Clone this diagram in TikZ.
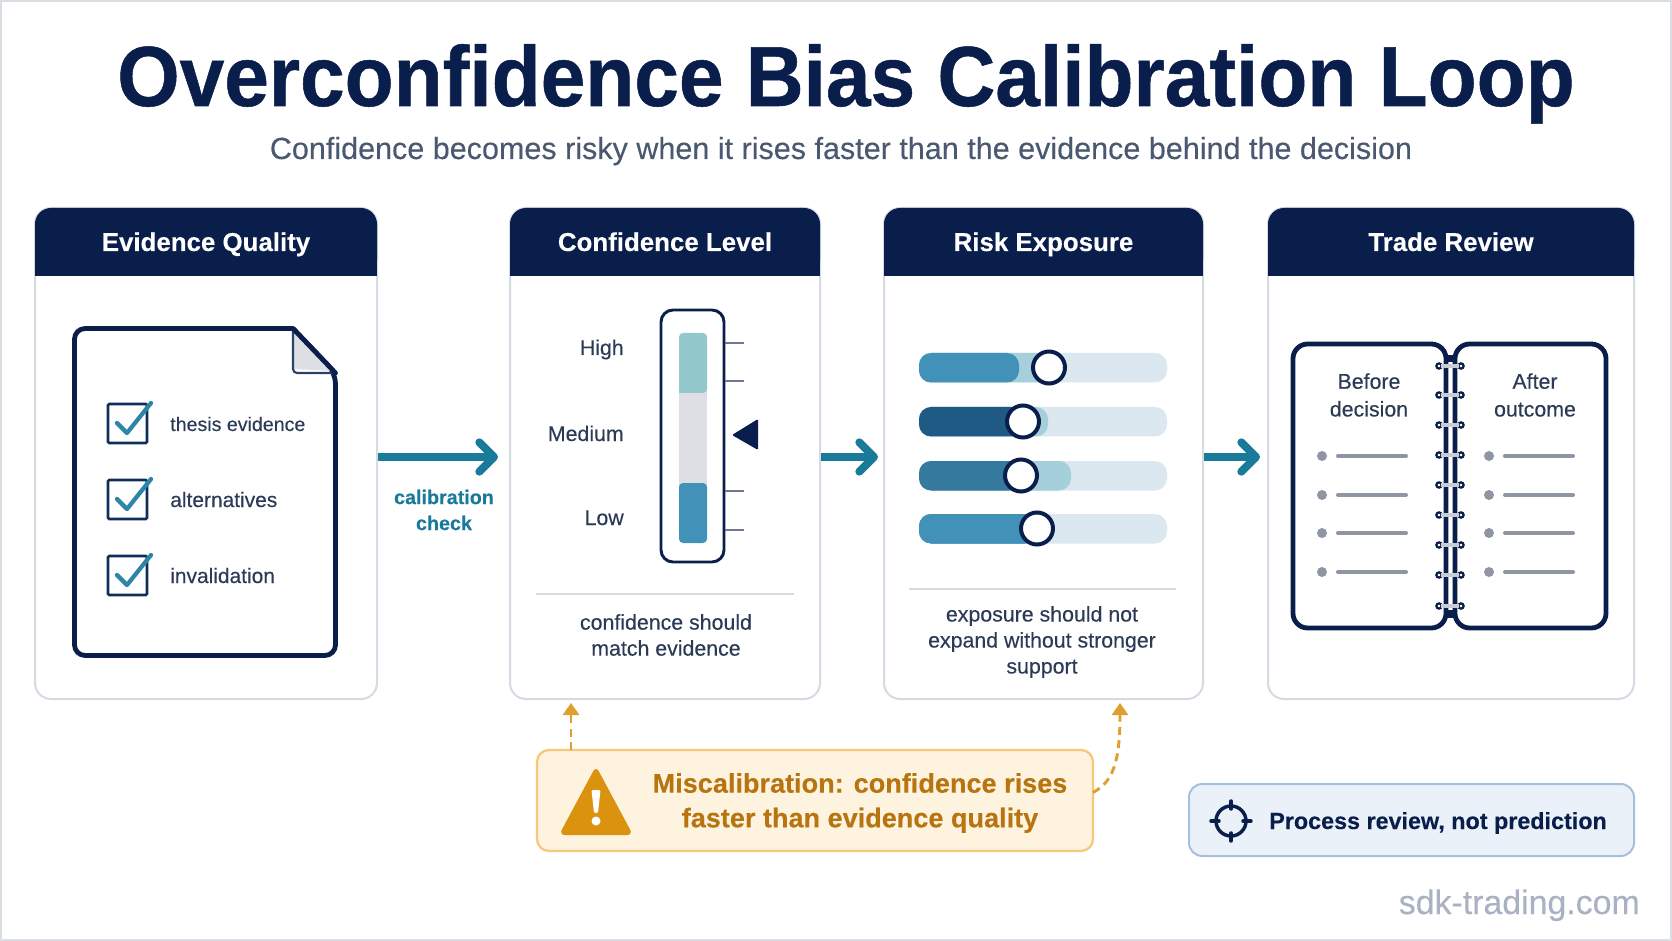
\documentclass[tikz,border=0pt]{standalone}
\usepackage{fontspec}
\setmainfont[FakeBold=0.2]{Liberation Sans}
\newfontfamily\titlefont[FakeStretch=0.94,FakeBold=0.6]{Liberation Sans Bold}
\usetikzlibrary{arrows.meta,calc}
\definecolor{navy}{HTML}{0A1E4B}
\definecolor{inktext}{HTML}{2B3A55}
\definecolor{subgray}{HTML}{4A5870}
\definecolor{panelline}{HTML}{D5DAE3}
\definecolor{teal}{HTML}{1A7A9A}
\definecolor{chk}{HTML}{2D86A8}
\definecolor{tick}{HTML}{6E7890}
\definecolor{rule}{HTML}{D5DAE3}
\definecolor{trackc}{HTML}{DCE8EF}
\definecolor{barA}{HTML}{4191B8}
\definecolor{barB}{HTML}{1F5A85}
\definecolor{barC}{HTML}{35799F}
\definecolor{softA}{HTML}{A5CFDB}
\definecolor{gaugeH}{HTML}{93C9CB}
\definecolor{gaugeM}{HTML}{DDDFE4}
\definecolor{gray2}{HTML}{8F95A3}
\definecolor{ringg}{HTML}{C8CCD4}
\definecolor{warnfill}{HTML}{FDF3DF}
\definecolor{warnline}{HTML}{F7C878}
\definecolor{warntext}{HTML}{B8750F}
\definecolor{warnicon}{HTML}{DB930F}
\definecolor{warnarr}{HTML}{E0A030}
\definecolor{notefill}{HTML}{EAF1F9}
\definecolor{noteline}{HTML}{A6BFDC}
\definecolor{mark}{HTML}{A9B2C3}
\definecolor{frame}{HTML}{DADDE3}
\tikzset{
  x=0.75pt,y=-0.75pt,
  panelbox/.style={draw=panelline,line width=1.5pt,rounded corners=12pt,fill=white,inner sep=0pt,outer sep=0pt},
  headtext/.style={text=white,font=\fontsize{19.4}{24}\selectfont\bfseries,anchor=base},
  body/.style={text=inktext,font=\fontsize{16}{19.5}\selectfont,align=center,inner sep=0pt},
  doctext/.style={text=inktext,inner sep=0pt,anchor=base west},
  flow/.style={teal,line width=6pt,-{Straight Barb[length=11pt,width=22pt,round]}},
  warnflow/.style={warnarr,line width=2.2pt,dash pattern=on 6pt off 4pt,-{Triangle[length=9pt,width=12pt,sep=0pt]}},
  divider/.style={rule,line width=1.5pt},
  tickmark/.style={tick,line width=2.2pt},
  track/.style={fill=trackc,rounded corners=9pt},
  knob/.style={circle,draw=navy,fill=white,line width=3pt,minimum size=24pt,inner sep=0pt},
  checkbox/.style={draw=navy!85!chk,line width=2pt,rounded corners=1pt,fill=white},
  checkmark/.style={chk,line width=3.2pt,line cap=round,line join=round},
  bookline/.style={gray2,line width=3pt,line cap=round},
  bookpage/.style={navy,line width=3.6pt,rounded corners=11pt,fill=white},
}
\newcommand{\panel}[5]{% name x1 x2 title titlename
  \node[panelbox,minimum width={(#3-#2)*0.75pt},minimum height={491*0.75pt}] (#1) at ({(#2+#3)/2},453.5) {};
  \fill[navy,rounded corners=12pt] (#2,276) -- (#2,208) -- (#3,208) -- (#3,276) [sharp corners] -- cycle;
  \fill[navy] (#2,250) rectangle (#3,276);
  \node[headtext] (#5) at ({(#2+#3)/2},251) {#4};
}
\newcommand{\chkrow}[4]{% y label name size
  \draw[checkbox] (108,{#1-21}) rectangle (147,{#1+18});
  \draw[checkmark] (117,{#1-2}) -- (127,{#1+8}) -- (151,{#1-22});
  \node[doctext,font=\fontsize{#4}{19.5}\selectfont] (#3) at (170,{#1+6}) {#2};
}
\newcommand{\slider}[7]{% ytop dark-end soft-end darkcolor softcolor knobx name
  \fill[track] (919,#1) rectangle (1167,{#1+29.5});
  \fill[#5,rounded corners=9pt] (919,#1) rectangle (#3,{#1+29.5});
  \fill[#4,rounded corners=9pt] (919,#1) rectangle (#2,{#1+29.5});
  \node[knob] (#7) at (#6,{#1+14.5}) {};
}
\newcommand{\bookrow}[1]{%
  \fill[gray2] (1322,#1) circle (5);
  \draw[bookline] (1338,#1) -- (1406,#1);
  \fill[gray2] (1489,#1) circle (5);
  \draw[bookline] (1505,#1) -- (1573,#1);
}
\newcommand{\ring}[1]{%
  \draw[navy,line width=1.7pt] (1439,#1) circle (2.6);
  \draw[navy,line width=1.7pt] (1461,#1) circle (2.6);
  \draw[ringg,line width=2.6pt] (1441,#1) -- (1459,#1);
}
\begin{document}
\begin{tikzpicture}
\useasboundingbox (0,0) rectangle (1672,941);
\fill[white] (0,0) rectangle (1672,941);
\draw[frame,line width=1.5pt] (1,1) rectangle (1671,940);

\node[text=navy,anchor=base,inner sep=0pt,font=\fontsize{64}{70}\selectfont\titlefont] (title) at (846,106) {Overconfidence Bias Calibration Loop};
\node[text=subgray,anchor=base,inner sep=0pt,font=\fontsize{22.9}{28}\selectfont] (subtitle) at (841,159) {Confidence becomes risky when it rises faster than the evidence behind the decision};

\panel{p1}{35}{377}{Evidence Quality}{h1}
\panel{p2}{510}{820}{Confidence Level}{h2}
\panel{p3}{884}{1203}{Risk Exposure}{h3}
\panel{p4}{1268}{1634}{Trade Review}{h4}

% document
\draw[navy,line width=3.6pt,line join=round,fill=white,rounded corners=8pt] (293,328.5) -- (74.5,328.5) -- (74.5,655.5) -- (335.5,655.5) -- (335.5,373) [sharp corners] -- (293,328.5);
\fill[gaugeM] (293,331) -- (293,369) -- (333,371) -- cycle;
\draw[navy!85!white,line width=1.6pt,rounded corners=3pt] (293,330) -- (293,373) -- (334,373);
\draw[navy,line width=3.6pt,line cap=round] (293,328.5) -- (335.5,373);
\chkrow{425}{thesis evidence}{t1}{14.7}
\chkrow{501}{alternatives}{t2}{15.7}
\chkrow{577}{invalidation}{t3}{15.7}

% gauge
\draw[navy,line width=2.2pt,rounded corners=9pt,fill=white] (661,310) rectangle (724,562);
\fill[gaugeM] (679,385) rectangle (707,490);
\fill[gaugeH,rounded corners=3pt] (679,333) -- (707,333) -- (707,393) [sharp corners] -- (679,393) [rounded corners=3pt] -- cycle;
\fill[barA,rounded corners=3pt] (679,483) rectangle (707,543);
\draw[tickmark] (725,343) -- (744,343);
\draw[tickmark] (725,381) -- (744,381);
\draw[tickmark] (725,491) -- (744,491);
\draw[tickmark] (725,530) -- (744,530);
\fill[navy,rounded corners=1pt] (732,435) -- (758,419) -- (758,450) -- cycle;
\node[body,anchor=base east] (lh) at (624,355) {High};
\node[body,anchor=base east] (lm) at (624,441) {Medium};
\node[body,anchor=base east] (ll) at (624,525) {Low};
\draw[divider] (536,594) -- (794,594);
\node[body] (c2) at (666,635) {confidence should\\match evidence};

% sliders
\slider{353}{1019}{1049}{barA}{softA}{1049}{k1}
\slider{407}{1023}{1048}{barB}{softA}{1023}{k2}
\slider{461}{1021}{1071}{barC}{softA}{1021}{k3}
\slider{514}{1037}{1037}{barA}{barA}{1037}{k4}
\draw[divider] (909,589) -- (1176,589);
\node[body] (c3) at (1042,642) {exposure should not\\expand without stronger\\support};

% book
\draw[bookpage] (1446,344) -- (1293,344) -- (1293,628) -- (1446,628) -- cycle;
\draw[bookpage] (1455,344) -- (1606,344) -- (1606,628) -- (1455,628) -- cycle;
\fill[navy] (1446,355) rectangle (1455,362);
\fill[navy] (1446,610) rectangle (1455,618);
\fill[white] (1449,362) rectangle (1452,610);
\foreach \ry in {366,395,425,455,485,515,545,575,606} {\ring{\ry}}
\node[body,font=\fontsize{16}{20.8}\selectfont] (b1) at (1369,395) {Before\\decision};
\node[body,font=\fontsize{16}{20.8}\selectfont] (b2) at (1535,395) {After\\outcome};
\bookrow{456}\bookrow{495}\bookrow{533}\bookrow{572}

% flow arrows
\draw[flow] ($(p1.east)+(1,3.5)$) -- ($(p2.west)+(-12,3.5)$);
\draw[flow] ($(p2.east)+(1,3.5)$) -- ($(p3.west)+(-6,3.5)$);
\draw[flow] ($(p3.east)+(1,3.5)$) -- ($(p4.west)+(-8,3.5)$);
\node[text=teal,font=\fontsize{14.8}{19.5}\selectfont\bfseries,align=center,inner sep=0pt] (cal) at (444,510) {calibration\\check};

% warning
\node[draw=warnline,fill=warnfill,line width=1.7pt,rounded corners=9pt,minimum width={556*0.75pt},minimum height={101*0.75pt},inner sep=0pt,outer sep=0pt] (warn) at (815,800.5) {};
\fill[warnicon,rounded corners=4.5pt] (596,766) -- (633,835) -- (559,835) -- cycle;
\fill[white,rounded corners=1pt] (591.5,790) -- (600.5,790) -- (598,813) -- (594,813) -- cycle;
\fill[white] (596,821) circle (4.5);
\node[text=warntext,font=\fontsize{20.3}{26}\selectfont\bfseries,align=center,inner sep=0pt] (wt) at (860,803) {Miscalibration: confidence rises\\faster than evidence quality};
\draw[warnflow] ($(warn.north west)+(34,0)$) -- ($(p2.south west)+(61,4)$);
\draw[warnflow] ($(warn.east)+(0,-8)$) .. controls (1112,782) and (1120,765) .. ($(p3.south east)+(-83,4)$);

% note
\node[draw=noteline,fill=notefill,line width=1.5pt,rounded corners=10pt,minimum width={445*0.75pt},minimum height={72*0.75pt},inner sep=0pt,outer sep=0pt] (note) at (1411.5,820) {};
\draw[navy,line width=2.6pt] (1231,821) circle (15);
\foreach \a in {0,90,180,270} {\draw[navy,line width=2.6pt,line cap=round] ($(1231,821)+(\a:12)$) -- ($(1231,821)+(\a:20)$);}
\node[text=navy,font=\fontsize{17.5}{22}\selectfont\bfseries,anchor=base west,inner sep=0pt] (nt) at (1269,829) {Process review, not prediction};

\node[text=mark,font=\fontsize{25.4}{30}\selectfont,anchor=base east,inner sep=0pt] (wm) at (1640,914) {sdk-trading.com};
\end{tikzpicture}
\end{document}
